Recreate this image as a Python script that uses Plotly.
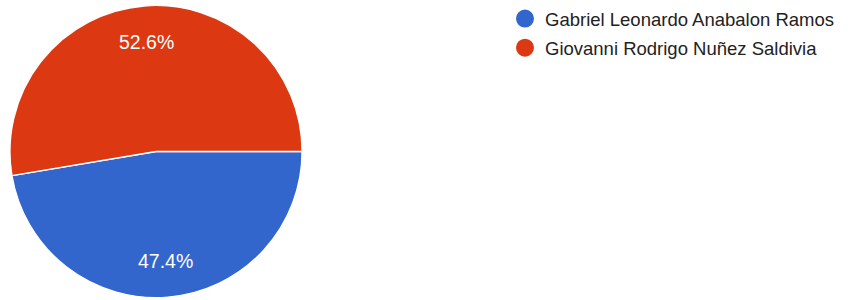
import math
import plotly.graph_objects as go

labels = ["Gabriel Leonardo Anabalon Ramos", "Giovanni Rodrigo Nuñez Saldivia"]
values = [9, 10]
colors = ["#3366cc", "#dc3912"]

W, H = 854, 300
cx, cy, R = 156, 151, 146
label_r = 0.764
dom_cy, dom_R = 149.5, 148

fig = go.Figure()
fig.add_trace(go.Pie(
    labels=labels, values=values, sort=False, direction="clockwise", rotation=90,
    marker=dict(colors=colors, line=dict(color="white", width=1.3)),
    textinfo="none", showlegend=False, hoverinfo="label+percent",
    domain=dict(x=[(cx - dom_R) / W, (cx + dom_R) / W],
                y=[(H - dom_cy - dom_R) / H, (H - dom_cy + dom_R) / H]),
))

# percent labels placed along each slice's mid-angle (clockwise from 3 o'clock)
total = sum(values)
cum = 0
for v in values:
    mid = (cum + v / 2) / total * 2 * math.pi
    cum += v
    px = cx + label_r * R * math.cos(mid)
    py = cy + label_r * R * math.sin(mid)
    fig.add_annotation(
        x=px / W, y=1 - (py - 1.5) / H, xref="paper", yref="paper", showarrow=False,
        text=f"{v / total * 100:.1f}%", xanchor="center", yanchor="middle",
        font=dict(family="Liberation Sans, Arial", size=19.5, color="white"),
    )

for i, (lab, col) in enumerate(zip(labels, colors)):
    fig.add_trace(go.Scatter(
        x=[None], y=[None], mode="markers", name=lab, legendgroup=lab,
        marker=dict(color=col, size=16, symbol="circle", line=dict(color=col, width=2)),
    ))

fig.update_layout(
    width=W, height=H, margin=dict(l=0, r=0, t=0, b=0),
    paper_bgcolor="white", plot_bgcolor="white",
    xaxis=dict(visible=False), yaxis=dict(visible=False),
    legend=dict(x=505 / W, y=1 + 4 / H, xanchor="left", yanchor="top",
                font=dict(family="Liberation Sans, Arial", size=18.5, color="#222222"),
                traceorder="grouped", tracegroupgap=2, itemsizing="trace"),
)
fig.write_html("out.html", config={"displayModeBar": False},
               post_script="document.body.style.margin='0';document.body.style.overflow='hidden';")
